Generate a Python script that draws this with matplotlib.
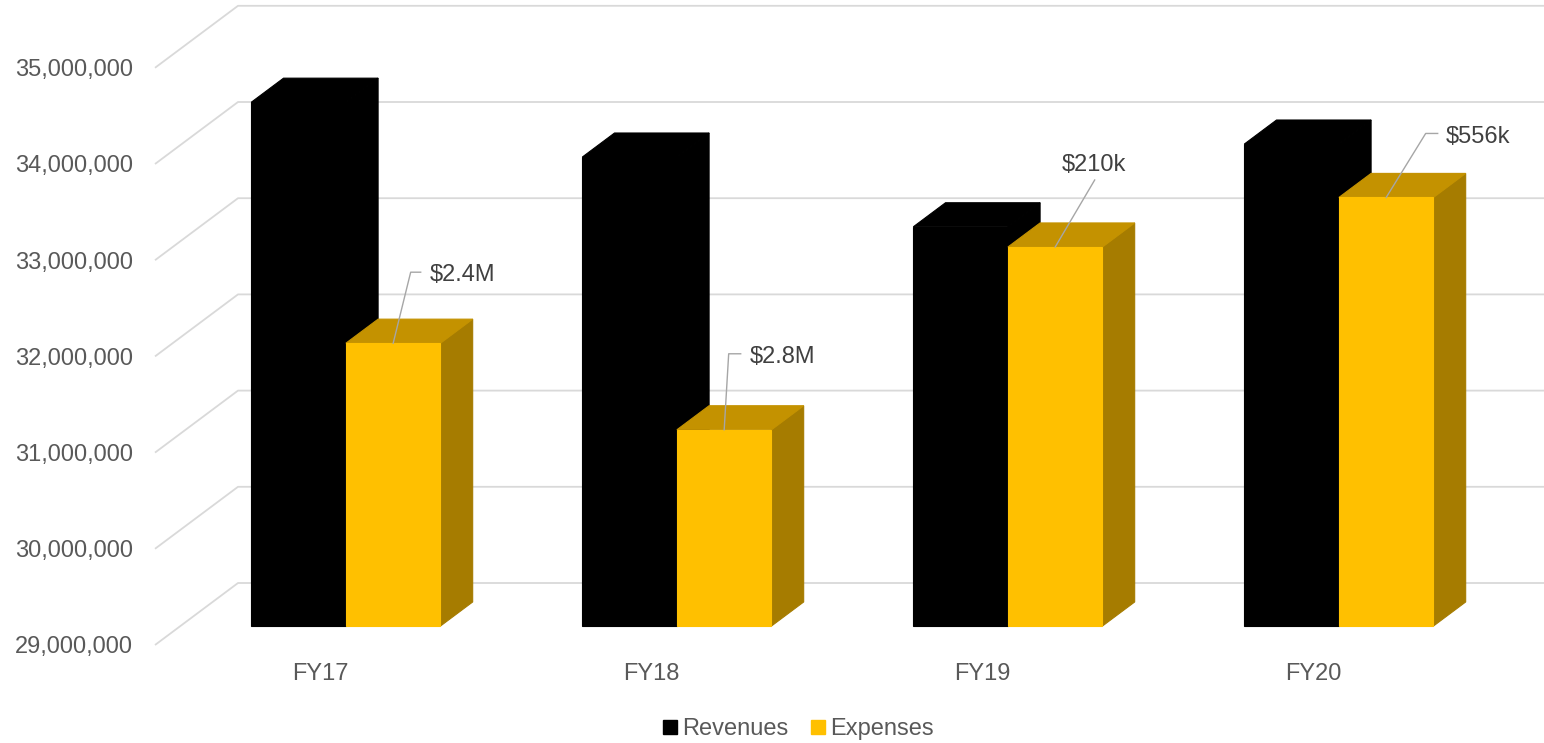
"""
Revenues vs expenses, FY17-FY20, drawn as Excel-style 3D columns.
"""

import matplotlib
matplotlib.use("Agg")
import matplotlib.pyplot as plt
from matplotlib.lines import Line2D
from matplotlib.patches import Polygon

# -----------------------------------------------------------------------------
# Data
# -----------------------------------------------------------------------------
categories = ["FY17", "FY18", "FY19", "FY20"]
revenues = [34_445_000, 33_875_000, 33_150_000, 34_010_000]
expenses = [31_940_000, 31_040_000, 32_940_000, 33_455_000]
gap_labels = ["$2.4M", "$2.8M", "$210k", "$556k"]
y_ticks = [29_000_000, 30_000_000, 31_000_000, 32_000_000,
           33_000_000, 34_000_000, 35_000_000]

# -----------------------------------------------------------------------------
# Layout / style
# -----------------------------------------------------------------------------
W, H = 1544, 743
SLOT_PX = 331.0        # pixels per category slot
MIL_PX = 96.2          # pixels per 1,000,000
X0_PX = 155.0          # left edge of the front plane
Y0_PX = 645.0          # pixel row of the axis minimum (from top)
DX = 83 / SLOT_PX      # full depth offset, x (slots)
DY = 62 / MIL_PX * 1e6 # full depth offset, y (value units)
D_FRONT, D_BACK = 0.306, 0.694
GAP = 0.75 / 3.5
BAR_W = 1 / 3.5
TXT_SHIFT = -2.5       # nudge text down so digits sit visually centred

GRID = "#D9D9D9"
AXIS_TXT = "#595959"
LABEL_TXT = "#404040"
LEADER = "#A6A6A6"
FONT = "Liberation Sans"

series_faces = [
    ("Revenues", "#000000", "#000000", "#000000"),   # front, top, side
    ("Expenses", "#FFC000", "#C49200", "#A67C00"),
]

# leader line (elbow, end) and text position, pixel offsets from the anchor
label_offsets = [
    ((17.5, 71), (27.5, 71), (36.5, 71), "left"),
    ((4.5, 76), (16.5, 76), (25.5, 75), "left"),
    ((39.5, 67), (39.5, 67), (38.5, 84), "center"),
    ((39.5, 64), (51.5, 64), (59.5, 63), "left"),
]

plt.rcParams["font.family"] = [FONT, "DejaVu Sans"]

fig = plt.figure(figsize=(W / 100, H / 100), dpi=100)
ax = fig.add_axes([0, 0, 1, 1])
ax.axis("off")
ymin = y_ticks[0]
ax.set_xlim(-X0_PX / SLOT_PX, (W - X0_PX) / SLOT_PX)
ax.set_ylim(ymin - (H - Y0_PX) / MIL_PX * 1e6, ymin + Y0_PX / MIL_PX * 1e6)


def proj(x, y, d):
    """Oblique projection: push a front-plane point back by depth d (0..1)."""
    return (x + d * DX, y + d * DY)


def px(dx, dy):
    """Pixel offset -> data offset (dy positive = up)."""
    return dx / SLOT_PX, dy / MIL_PX * 1e6


# gridlines: side wall diagonals + back wall horizontals
x_right = ax.get_xlim()[1]
for v in y_ticks:
    (xa, ya), (xb, yb) = proj(0, v, 0), proj(0, v, 1)
    ax.plot([xa, xb, x_right], [ya, yb, yb], color=GRID, lw=1.3,
            solid_capstyle="butt", zorder=1)
    ax.text(px(-22, 0)[0], v + px(0, TXT_SHIFT)[1], f"{v:,.0f}", ha="right",
            va="center", fontsize=17, color=AXIS_TXT)

# bars
for i in range(len(categories)):
    for s, values in enumerate([revenues, expenses]):
        _, c_front, c_top, c_side = series_faces[s]
        x0 = i + GAP + s * BAR_W
        x1 = x0 + BAR_W
        y1 = values[i]
        side = [proj(x1, ymin, D_FRONT), proj(x1, ymin, D_BACK),
                proj(x1, y1, D_BACK), proj(x1, y1, D_FRONT)]
        top = [proj(x0, y1, D_FRONT), proj(x1, y1, D_FRONT),
               proj(x1, y1, D_BACK), proj(x0, y1, D_BACK)]
        front = [proj(x0, ymin, D_FRONT), proj(x1, ymin, D_FRONT),
                 proj(x1, y1, D_FRONT), proj(x0, y1, D_FRONT)]
        for pts, c in [(side, c_side), (top, c_top), (front, c_front)]:
            ax.add_patch(Polygon(pts, closed=True, facecolor=c, edgecolor=c,
                                 lw=0.8, joinstyle="miter", zorder=2 + i))

    ax.text(i + 0.5, ymin - px(0, 27 - TXT_SHIFT)[1], categories[i],
            ha="center", va="center", fontsize=17, color=AXIS_TXT)

# data labels with leader lines
for i, lab in enumerate(gap_labels):
    ax_x, ax_y = proj(i + GAP + 1.5 * BAR_W, expenses[i], D_FRONT)
    elbow, end, txt, ha = label_offsets[i]
    ex, ey = px(*elbow)
    nx_, ny_ = px(*end)
    tx, ty = px(txt[0], txt[1] + TXT_SHIFT)
    ax.plot([ax_x, ax_x + ex, ax_x + nx_], [ax_y, ax_y + ey, ax_y + ny_],
            color=LEADER, lw=1.0, zorder=10)
    ax.text(ax_x + tx, ax_y + ty, lab, ha=ha, va="center", fontsize=17,
            color=LABEL_TXT, zorder=11)

# legend
handles = [Line2D([], [], marker="s", linestyle="none", markersize=9.5,
                  color=f[1], label=f[0]) for f in series_faces]
leg = fig.legend(handles=handles, loc="center", ncol=2, frameon=False,
                 bbox_to_anchor=(799 / W, 14 / H), fontsize=17,
                 handlelength=0.5, handletextpad=0.25, columnspacing=1.0)
for t in leg.get_texts():
    t.set_color(AXIS_TXT)

fig.savefig("out.png", dpi=100)
plt.close(fig)
